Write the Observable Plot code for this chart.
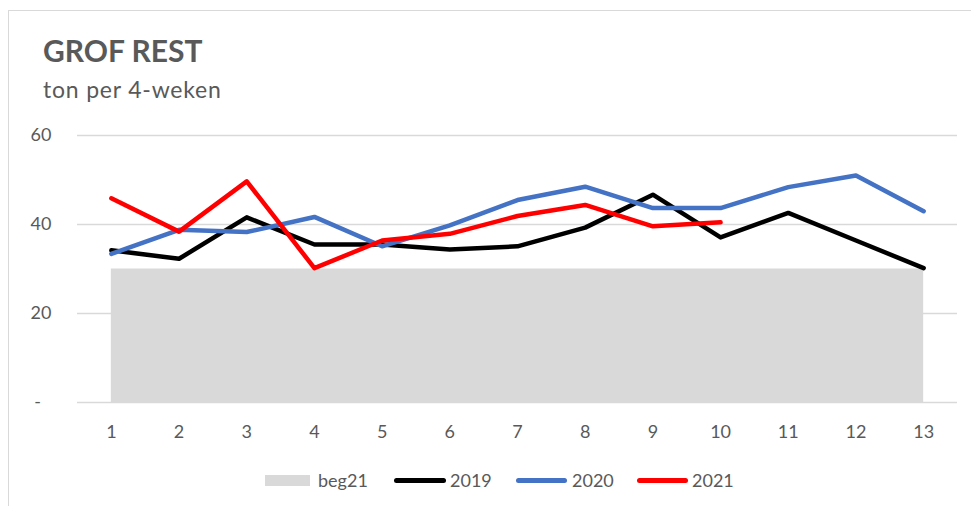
<!DOCTYPE html>
<html>
<head>
<meta charset="utf-8">
<script src="https://cdn.jsdelivr.net/npm/d3@7"></script>
<script src="https://cdn.jsdelivr.net/npm/@observablehq/plot@0.6"></script>
<style>
  html, body { margin: 0; padding: 0; background: #fff; }
  body { font-family: Lato, "Open Sans", sans-serif; color: #595959; }
  #wrap { position: relative; width: 971px; height: 506px; overflow: hidden; }
  #frame { position: absolute; left: 8px; top: 10px; width: 1000px; height: 600px; border: 1.5px solid #d9d9d9; box-sizing: border-box; }
  #title { position: absolute; left: 43px; top: 35px; font-size: 30px; font-weight: 700; color: #595959; line-height: 1; white-space: nowrap; }
  #subtitle { position: absolute; left: 43px; top: 78px; font-size: 23px; letter-spacing: 0.8px; color: #595959; line-height: 1; white-space: nowrap; }
  #chart { position: absolute; left: 0; top: 0; }
  .lg { position: absolute; top: 470px; height: 20px; font-size: 18px; line-height: 20px; color: #595959; white-space: nowrap; }
  .sw { position: absolute; }
</style>
</head>
<body>
<div id="wrap">
  <div id="frame"></div>
  <div id="chart"></div>
  <div id="title">GROF REST</div>
  <div id="subtitle">ton per 4-weken</div>
  <div id="legend"></div>
</div>
<script>
const weeks = [1, 2, 3, 4, 5, 6, 7, 8, 9, 10, 11, 12, 13];
const beg21 = [30, 30, 30, 30, 30, 30, 30, 30, 30, 30, 30, 30, 30];
const v2019 = [34.2, 32.3, 41.6, 35.5, 35.5, 34.4, 35.1, 39.3, 46.7, 37.1, 42.6, 36.4, 30.2];
const v2020 = [33.4, 38.8, 38.3, 41.7, 35.1, 39.8, 45.5, 48.5, 43.7, 43.7, 48.4, 51.0, 43.0];
const v2021 = [45.9, 38.4, 49.7, 30.2, 36.4, 37.9, 41.9, 44.4, 39.6, 40.5];
const yTicks = [0, 20, 40, 60];

const seriesNames = ["beg21", "2019", "2020", "2021"];
const seriesColors = ["#d9d9d9", "#000000", "#4472c4", "#ff0000"];

const areaData = weeks.map((w, i) => ({week: w, value: beg21[i]}));
const mk = arr => arr.map((v, i) => ({week: weeks[i], value: v}));
const d2019 = mk(v2019), d2020 = mk(v2020), d2021 = mk(v2021);

const lineOpts = {x: "week", y: "value", strokeWidth: 4.5, strokeLinejoin: "round", strokeLinecap: "round"};

const plot = Plot.plot({
  width: 971,
  height: 450,
  marginLeft: 77,
  marginRight: 14,
  marginTop: 135,
  marginBottom: 48,
  style: {fontFamily: "Lato, 'Open Sans', sans-serif", fontSize: "18px", color: "#595959", background: "transparent"},
  x: {domain: [0.5, 13.5], ticks: weeks, tickFormat: d => String(d), label: null},
  y: {domain: [0, 60], ticks: yTicks, tickFormat: d => d === 0 ? "-\u2007" : String(d), label: null},
  marks: [
    Plot.gridY(yTicks, {stroke: "#d9d9d9", strokeOpacity: 1, strokeWidth: 1.3}),
    Plot.areaY(areaData, {x: "week", y: "value", fill: seriesColors[0]}),
    Plot.lineY(d2019, {...lineOpts, stroke: seriesColors[1]}),
    Plot.lineY(d2020, {...lineOpts, stroke: seriesColors[2]}),
    Plot.lineY(d2021, {...lineOpts, stroke: seriesColors[3]}),
    Plot.axisX({ticks: weeks, tickSize: 0, tickPadding: 23, fill: "#595959", label: null, tickFormat: d => String(d)}),
    Plot.axisY({ticks: yTicks, tickSize: 0, tickPadding: 26, fill: "#595959", label: null, tickFormat: d => d === 0 ? "-\u2007" : String(d)})
  ]
});
document.getElementById("chart").appendChild(plot);

// legend
const legend = document.getElementById("legend");
const items = [
  {swLeft: 265, swW: 45, textLeft: 318, kind: "rect"},
  {swLeft: 394, swW: 52, textLeft: 450, kind: "line"},
  {swLeft: 516, swW: 51, textLeft: 572, kind: "line"},
  {swLeft: 637, swW: 51, textLeft: 692, kind: "line"}
];
items.forEach((it, i) => {
  const sw = document.createElement("div");
  sw.className = "sw";
  sw.style.left = it.swLeft + "px";
  sw.style.width = it.swW + "px";
  sw.style.background = seriesColors[i];
  if (it.kind === "rect") {
    sw.style.top = "475px"; sw.style.height = "11px";
  } else {
    sw.style.top = "478px"; sw.style.height = "5px"; sw.style.borderRadius = "3px";
  }
  legend.appendChild(sw);
  const t = document.createElement("div");
  t.className = "lg";
  t.style.left = it.textLeft + "px";
  t.textContent = seriesNames[i];
  legend.appendChild(t);
});
</script>
</body>
</html>
